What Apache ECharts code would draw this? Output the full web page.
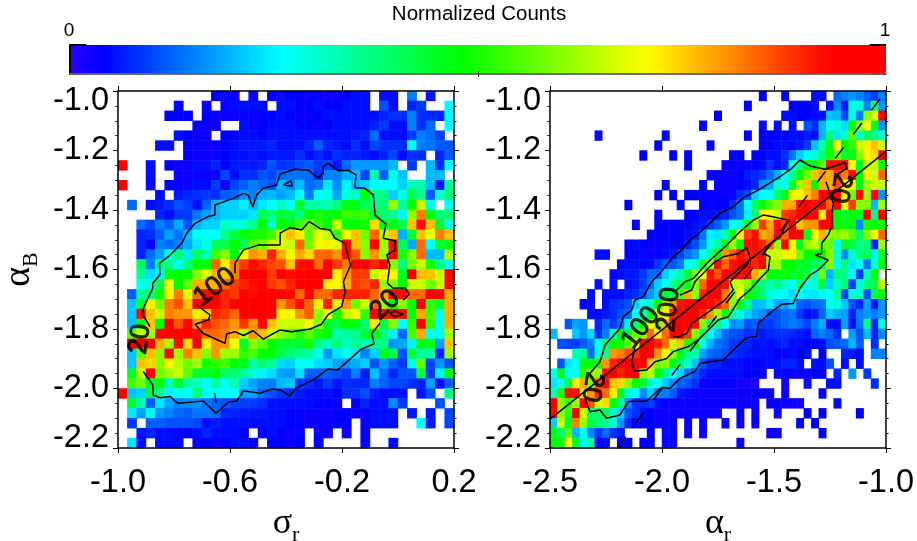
<!DOCTYPE html>
<html><head><meta charset="utf-8">
<style>html,body{margin:0;padding:0;background:#fff}#c{width:917px;height:541px}</style>
<script src="https://cdn.jsdelivr.net/npm/echarts@6/dist/echarts.min.js"></script></head>
<body><div id="c"></div><script>
const _ = null;
const gap = n => new Array(n).fill(null);
// counts in hundredths of the normalized scale, top row (alpha_B = -1.0) first
const leftRows = [
[...gap(10),4,5,3,_,3,_,3,5,4,4,3,3,2,3,4,5,5,_,5,5,_,15,_,6,_,_],
[...gap(6),4,_,_,3,_,3,5,5,5,5,_,5,5,4,4,5,4,4,5,5,5,_,11,5,_,7,9,_,_,26],
[...gap(5),4,4,4,_,4,3,3,3,3,3,4,4,5,4,3,3,4,5,5,5,5,5,5,7,8,8,15,8,7,7,26],
[...gap(8),4,3,3,_,_,5,3,4,5,5,5,4,4,3,4,5,5,5,5,7,9,5,5,15,8,13,_,26],
[...gap(6),5,4,3,3,_,4,4,5,5,4,5,5,5,5,5,5,5,5,5,6,7,13,5,5,5,9,15,13,10,_],
[...gap(4),5,5,_,4,3,3,3,4,5,6,6,6,7,5,5,5,7,12,7,6,5,8,5,10,8,8,8,26,15,14,12,11],
[...gap(7),4,3,3,3,4,5,5,6,5,6,6,6,8,5,7,5,8,7,7,6,5,7,10,5,8,8,_,7,12],
[94,_,_,5,_,4,3,3,5,5,7,4,6,6,6,7,11,8,9,11,12,9,10,6,13,17,17,17,17,20,_,9,_,20,8,26],
[_,_,_,5,_,_,3,3,3,3,3,10,5,8,8,11,10,13,14,14,13,8,15,15,19,20,10,32,12,28,21,_,_,20,20,_],
[94,_,_,5,_,4,3,3,5,5,9,3,10,12,15,13,11,20,16,20,13,15,24,16,25,20,22,26,27,26,22,33,33,20,6,35],
[_,_,_,_,5,_,6,7,8,9,8,12,13,17,15,19,20,18,20,26,15,26,28,18,29,31,48,36,36,22,28,42,35,12,30,38],
[_,13,_,5,6,8,11,9,5,12,20,22,22,25,20,24,27,31,27,44,33,33,33,37,46,46,40,36,38,62,35,48,66,28,_,27],
[_,_,_,_,7,5,9,9,14,18,20,22,22,22,24,41,37,44,42,38,48,50,46,48,53,52,53,44,38,36,25,60,82,46,38,38],
[_,_,13,10,15,12,19,11,20,22,22,31,29,30,36,48,32,48,46,54,59,52,48,66,48,48,49,74,44,46,42,76,92,76,44,28],
[_,_,7,8,12,18,14,20,27,26,26,36,42,48,50,50,54,66,76,72,56,68,66,52,70,76,58,84,64,76,19,44,76,68,82,76],
[_,_,7,4,15,13,15,19,24,28,40,42,48,40,56,58,66,68,66,84,58,70,72,68,93,76,60,95,62,93,40,19,84,26,44,48],
[_,_,7,13,18,29,38,24,40,33,54,60,47,70,80,78,90,78,71,78,74,84,84,80,93,85,60,80,62,94,50,60,84,20,20,64],
[_,_,40,15,37,36,26,38,48,48,84,72,82,88,92,90,87,86,76,92,93,84,94,88,82,94,94,90,94,60,37,58,66,50,36,27],
[_,_,35,23,25,48,48,48,60,68,78,76,82,94,94,94,88,94,92,94,94,94,94,71,80,88,88,66,72,71,46,94,76,76,66,94],
[_,_,27,30,42,70,48,56,78,78,78,84,88,90,92,94,88,86,90,94,94,94,72,71,78,88,86,90,62,60,48,66,66,58,66,94],
[_,12,35,38,50,71,82,68,84,93,94,90,88,94,92,94,94,94,92,84,94,84,84,90,90,90,90,84,78,93,93,84,84,94,94,78],
[_,21,44,72,58,82,86,76,94,94,94,90,94,94,94,94,94,80,86,92,84,72,90,72,80,58,66,84,62,48,60,48,94,52,44,78],
[_,21,92,76,66,82,80,80,72,74,90,88,84,94,94,94,94,72,71,80,85,60,70,50,66,71,52,94,92,93,93,48,78,54,27,78],
[_,21,46,76,48,94,86,93,80,90,86,84,80,88,80,93,76,66,66,66,70,60,44,42,48,46,38,72,42,60,26,52,94,52,27,78],
[_,56,66,62,94,94,94,94,92,84,84,82,78,64,80,76,66,60,56,50,56,50,48,32,34,36,44,48,38,25,13,54,78,27,27,62],
[_,94,94,94,78,62,92,74,94,72,80,80,70,44,60,56,48,44,44,44,50,36,31,38,32,36,32,36,36,17,19,25,46,46,18,76],
[_,21,56,76,60,93,62,82,76,60,80,62,62,52,54,48,48,42,38,36,34,28,17,24,27,24,15,22,46,42,11,44,34,34,7,62],
[_,21,76,74,60,72,64,58,62,50,52,54,48,46,34,38,36,23,22,27,27,23,22,18,17,19,22,11,17,12,9,27,56,10,17,11],
[_,44,66,94,58,62,66,56,44,44,48,40,38,35,30,25,23,18,17,23,12,12,12,11,9,15,6,21,13,7,11,11,42,9,25,48],
[_,54,58,44,48,32,44,34,32,27,34,27,33,22,18,15,15,20,21,9,8,6,9,6,8,7,7,15,12,10,10,8,7,18,5,12],
[94,21,22,42,36,25,27,26,38,26,27,26,26,18,18,13,11,9,8,6,5,5,5,4,8,8,11,6,5,5,5,_,6,11,_,37],
[_,44,33,12,24,18,15,16,17,14,12,11,10,9,9,8,5,5,5,5,5,4,4,3,_,4,7,5,5,16,9,_,_,_,11,_],
[_,24,18,26,17,15,13,12,14,14,13,7,7,6,6,6,5,5,4,3,3,3,3,4,4,3,3,5,5,5,_,6,_,6,_,10],
[_,9,_,12,12,11,11,11,10,5,6,5,5,5,5,5,5,5,4,4,3,3,3,4,4,_,3,5,5,5,_,_,26,6,_,10],
[_,_,6,7,5,5,3,4,5,7,5,5,5,4,_,4,5,4,3,3,_,3,3,_,3,_,3,...gap(9)],
[_,24,5,_,5,5,5,_,3,4,3,4,5,5,4,_,4,4,3,4,_,4,_,_,_,_,3,_,_,5,...gap(6)]
];
const rightRows = [
[...gap(28),4,_,_,4,_,_,_,5,5,_,13,15,17,15,12,9,15],
[...gap(26),4,...gap(5),4,4,4,5,_,5,16,6,28,30,15,38,17],
[...gap(22),4,...gap(8),5,5,4,4,5,5,21,20,10,28,15,60,68,94],
[...gap(20),4,...gap(7),5,_,5,_,5,_,11,8,20,26,30,23,46,62,70,46,17],
[...gap(6),5,...gap(8),4,...gap(10),4,_,4,4,4,4,5,5,6,5,20,38,24,30,56,32,40,36,30],
[...gap(14),4,...gap(6),4,...gap(6),4,4,5,5,5,6,9,21,33,46,71,48,52,66,72,76,66],
[...gap(12),4,_,_,_,4,_,4,...gap(5),4,4,_,4,4,5,5,8,14,22,26,30,38,50,58,44,46,60,72,74,94],
[...gap(18),4,...gap(4),3,3,3,3,4,5,8,5,7,27,36,48,46,56,92,93,93,70,46,66,66,46],
[...gap(21),3,3,3,3,4,6,7,9,13,19,26,36,48,58,76,80,78,88,82,93,48,72,66,84],
[...gap(15),4,...gap(4),4,_,3,3,3,4,5,7,17,19,30,27,44,62,76,48,78,78,86,71,72,46,62,66,66],
[...gap(14),4,_,4,_,4,4,4,3,3,3,3,8,10,22,26,26,38,46,71,71,76,82,94,94,94,71,58,92,62,94,17],
[...gap(10),4,...gap(6),4,_,_,4,3,4,4,8,14,27,40,48,55,60,78,78,92,94,92,94,84,94,71,88,60,60,20,62],
[...gap(14),4,_,_,_,4,4,5,5,6,7,11,14,25,38,71,71,66,88,90,94,94,94,72,94,48,44,48,46,94,36,94],
[...gap(11),4,_,_,4,4,4,4,4,5,6,9,12,17,26,30,46,62,88,78,92,88,94,76,80,80,94,94,48,46,48,16,50,46,50],
[...gap(13),4,4,4,4,4,5,6,14,25,24,33,48,72,88,92,78,80,94,84,94,94,46,70,78,60,60,62,56,40,60,70,84],
[...gap(10),4,5,4,3,3,3,4,4,7,11,17,28,34,48,62,48,93,93,90,84,62,94,71,46,62,66,56,58,28,44,44,36,38,7,62],
[...gap(6),5,5,_,_,4,4,3,3,4,5,6,10,14,17,27,35,48,80,85,93,90,92,92,66,66,71,72,58,48,48,48,60,30,16,30,38,40,27,44],
[...gap(9),4,5,5,4,5,9,12,11,15,26,30,50,60,92,84,92,94,94,90,94,62,62,48,48,44,44,40,38,60,28,38,24,27,14,30,48],
[...gap(8),4,5,6,6,9,13,13,22,28,33,44,60,71,92,86,94,94,92,94,78,62,48,46,50,44,46,42,30,58,20,38,35,27,9,33,46,_],
[...gap(6),5,_,5,_,5,6,9,14,22,26,36,42,46,60,84,94,94,92,66,66,60,44,36,33,36,30,26,38,28,30,44,22,32,38,9,30,38,42,66],
[...gap(5),5,_,5,5,5,7,8,11,17,22,44,42,54,78,60,90,94,94,82,60,70,48,44,38,30,26,26,23,26,24,24,27,26,36,10,30,30,11,42,48],
[...gap(4),4,5,_,5,8,9,11,22,27,33,48,66,80,92,94,94,94,92,90,84,60,46,36,20,21,24,18,18,22,12,11,13,14,27,29,21,11,7,18,6,17],
[...gap(5),5,5,6,8,11,13,26,32,46,66,72,90,94,94,94,90,80,62,46,34,28,22,18,16,11,11,13,14,9,5,6,13,22,19,18,7,15,17,15,17],
[_,_,11,18,17,_,7,13,9,13,25,38,48,70,60,76,94,94,94,92,60,36,36,26,16,18,11,12,9,9,11,13,15,13,10,15,19,5,5,18,5,14,36,7,30],
[20,_,_,21,17,23,8,15,33,48,42,58,60,84,72,84,94,94,88,60,38,27,20,13,11,10,8,9,6,7,8,8,7,6,5,13,15,13,8,_,18,11,20,7,16],
[_,11,10,9,12,15,26,38,48,48,56,70,94,94,90,84,66,76,50,46,28,19,14,12,9,8,7,5,6,5,6,7,5,5,4,4,5,11,12,13,20,12,_,8,_],
[_,_,_,33,35,13,30,36,80,82,86,88,94,94,80,71,60,46,36,33,18,13,12,10,8,7,6,5,5,5,4,3,5,4,5,_,4,_,_,7,6,5,_,15,15],
[_,11,24,27,46,48,50,80,90,94,94,94,94,76,58,60,46,38,30,20,11,7,7,5,5,5,4,4,3,5,5,7,7,5,_,5,5,11,_,5,_,5,_,_,_],
[27,46,27,26,52,60,62,92,94,90,94,94,60,66,48,36,26,22,14,11,7,5,5,5,5,5,4,4,3,_,3,3,3,3,3,4,4,_,7,_,17,_,9,_,_],
[24,27,42,72,78,60,86,92,76,74,60,48,44,30,27,21,16,12,11,8,3,3,4,4,3,2,2,2,_,_,_,3,_,_,4,_,_,5,5,_,_,_,_,8,_],
[33,50,92,92,72,80,90,84,72,46,30,26,16,22,15,15,12,6,5,3,3,3,3,3,3,3,3,3,3,3,_,3,_,_,_,_,4,...gap(8)],
[94,60,52,62,94,86,66,74,48,35,16,8,8,9,5,3,3,3,3,3,3,3,3,3,3,3,3,3,_,3,3,3,3,3,_,_,_,_,5,...gap(6)],
[94,60,52,94,66,38,40,40,30,22,11,8,5,4,3,3,3,3,3,3,3,3,3,_,_,3,_,3,_,_,3,_,_,_,4,_,4,_,_,_,_,4,_,_,_],
[22,66,44,82,62,42,38,36,30,17,7,4,4,4,3,3,3,_,3,_,3,_,_,3,_,3,_,3,...gap(5),4,_,4,...gap(9)],
[46,38,56,20,26,15,9,13,8,6,_,_,_,4,_,5,3,_,3,_,3,...gap(8),3,3,...gap(5),4,...gap(8)],
[48,46,70,44,28,34,4,5,_,4,4,_,4,4,_,3,3,...gap(8),3,...gap(19)]
];
// contour lines, [x, y] in axis units
const sigma20Lower = [[-0.91,-1.943],[-0.876,-1.988],[-0.874,-2.022],[-0.85,-2.031],[-0.814,-2.027],[-0.785,-2.05],[-0.695,-2.042],[-0.65,-2.083],[-0.606,-2.046],[-0.576,-2.042],[-0.552,-2.008],[-0.493,-2.016],[-0.451,-2.002],[-0.421,-2.005],[-0.386,-2.025],[-0.362,-1.997],[-0.302,-1.971],[-0.249,-1.934],[-0.217,-1.939],[-0.13,-1.867],[-0.085,-1.85],[-0.094,-1.815],[-0.064,-1.781]];
const sigma20Upper = [[0.019,-1.703],[0.04,-1.683],[0.025,-1.661],[-0.017,-1.663],[-0.038,-1.646],[-0.029,-1.585],[-0.04,-1.551],[-0.011,-1.534],[-0.011,-1.503],[-0.053,-1.495],[-0.043,-1.447],[-0.082,-1.417],[-0.088,-1.35],[-0.118,-1.327],[-0.154,-1.324],[-0.15,-1.282],[-0.178,-1.266],[-0.213,-1.268],[-0.249,-1.243],[-0.267,-1.254],[-0.267,-1.277],[-0.285,-1.293],[-0.32,-1.266],[-0.368,-1.263],[-0.421,-1.279],[-0.433,-1.316],[-0.481,-1.327],[-0.505,-1.35],[-0.519,-1.389],[-0.535,-1.35],[-0.552,-1.344],[-0.588,-1.361],[-0.654,-1.383],[-0.654,-1.417],[-0.678,-1.422],[-0.725,-1.445],[-0.755,-1.478],[-0.772,-1.512],[-0.82,-1.557],[-0.852,-1.579],[-0.85,-1.618],[-0.876,-1.646],[-0.876,-1.663],[-0.91,-1.731],[-0.91,-1.753],[-0.886,-1.792]];
const sigmaIslandA = [[-0.41,-1.316],[-0.382,-1.302],[-0.377,-1.319],[-0.41,-1.316]];
const sigmaIslandB = [[-0.654,-2.016],[-0.648,-2.016],[-0.65,-2.05],[-0.654,-2.016]];
const sigmaIslandC = [[-0.029,-1.747],[-0.011,-1.739],[0.019,-1.75],[-0.011,-1.759],[-0.029,-1.747]];
const sigma100 = [[-0.719,-1.719],[-0.671,-1.753],[-0.677,-1.77],[-0.725,-1.784],[-0.695,-1.815],[-0.618,-1.848],[-0.612,-1.817],[-0.582,-1.809],[-0.552,-1.822],[-0.517,-1.806],[-0.481,-1.834],[-0.421,-1.803],[-0.38,-1.809],[-0.314,-1.8],[-0.273,-1.784],[-0.249,-1.751],[-0.201,-1.725],[-0.189,-1.675],[-0.195,-1.641],[-0.169,-1.585],[-0.178,-1.557],[-0.189,-1.512],[-0.225,-1.495],[-0.243,-1.467],[-0.279,-1.462],[-0.317,-1.439],[-0.344,-1.467],[-0.386,-1.459],[-0.421,-1.478],[-0.421,-1.518],[-0.499,-1.518],[-0.552,-1.534],[-0.582,-1.579],[-0.576,-1.585],[-0.582,-1.613]];
const alpha20Upper = [[-2.321,-1.949],[-2.277,-1.91],[-2.254,-1.854],[-2.188,-1.798],[-2.173,-1.759],[-2.135,-1.736],[-2.121,-1.703],[-2.083,-1.691],[-2.046,-1.641],[-2.009,-1.613],[-1.979,-1.585],[-1.95,-1.557],[-1.92,-1.54],[-1.875,-1.501],[-1.845,-1.484],[-1.786,-1.445],[-1.741,-1.411],[-1.682,-1.389],[-1.629,-1.355],[-1.57,-1.333],[-1.473,-1.288],[-1.421,-1.26],[-1.384,-1.232],[-1.339,-1.252],[-1.272,-1.263],[-1.235,-1.254],[-1.183,-1.24],[-1.175,-1.26],[-1.22,-1.282]];
const alpha20Lower = [[-1.268,-1.305],[-1.258,-1.327],[-1.235,-1.377],[-1.242,-1.411],[-1.242,-1.456],[-1.258,-1.484],[-1.287,-1.512],[-1.287,-1.546],[-1.317,-1.551],[-1.258,-1.568],[-1.302,-1.602],[-1.339,-1.618],[-1.384,-1.663],[-1.414,-1.714],[-1.466,-1.717],[-1.51,-1.742],[-1.57,-1.781],[-1.577,-1.826],[-1.622,-1.829],[-1.682,-1.871],[-1.726,-1.904],[-1.83,-1.915],[-1.853,-1.943],[-1.92,-1.966],[-1.964,-1.999],[-2.001,-1.997],[-2.039,-2.022],[-2.068,-2.042],[-2.15,-2.044],[-2.188,-2.089],[-2.247,-2.1],[-2.277,-2.072],[-2.321,-2.078],[-2.344,-2.033]];
const alpha100 = [[-1.942,-1.675],[-1.897,-1.641],[-1.86,-1.63],[-1.793,-1.574],[-1.711,-1.518],[-1.652,-1.473],[-1.592,-1.434],[-1.548,-1.417],[-1.51,-1.422],[-1.436,-1.434],[-1.473,-1.49],[-1.51,-1.512],[-1.548,-1.546],[-1.518,-1.557],[-1.525,-1.602],[-1.562,-1.63],[-1.607,-1.669],[-1.652,-1.697],[-1.704,-1.759],[-1.749,-1.77],[-1.793,-1.803],[-1.839,-1.837],[-1.883,-1.859],[-1.95,-1.876],[-1.979,-1.899],[-2.031,-1.91],[-2.068,-1.938],[-2.125,-1.941],[-2.135,-1.91],[-2.121,-1.865]];
const alpha200 = [[-1.92,-1.686],[-1.867,-1.669],[-1.853,-1.641],[-1.808,-1.607],[-1.771,-1.579],[-1.726,-1.557],[-1.659,-1.546],[-1.622,-1.527],[-1.607,-1.557],[-1.615,-1.579],[-1.659,-1.613],[-1.696,-1.641],[-1.682,-1.669],[-1.719,-1.703],[-1.749,-1.719],[-1.8,-1.747],[-1.867,-1.781],[-1.89,-1.815],[-1.927,-1.826],[-1.951,-1.826]];
const fitLine = [[-2.5,-2.103],[-1.0,-1.203]];
const unityLine = [[-2.2,-2.2],[-1.0,-1.0]];
// [x, y, text, rotation]
const sigmaLabels = [[-0.921,-1.834,'20',82],[-0.654,-1.659,'100',38],[-0.046,-1.719,'20',45]];
const alphaLabels = [[-2.3125,-1.995,'20',-100],[-1.205,-1.326,'20',-100],[-2.095,-1.796,'100',52],[-1.97,-1.735,'200',84]];
const sigmaTicks = [-1.0,-0.6,-0.2,0.2];
const alphaTicks = [-2.5,-2.0,-1.5,-1.0];
const barCaps = [[0,0],[0.02,0],null,[0,1],[0.02,1],null,[0.98,0],[1,0],null,[0.98,1],[1,1]];

const anchors = [[0,[42,0,255]],[0.04,[0,0,255]],[0.26,[0,255,255]],[0.48,[0,255,0]],[0.707,[255,255,0]],[0.93,[255,0,0]],[1,[255,0,0]]];
function colorAt(t){for(let i=1;i<anchors.length;i++){if(t<=anchors[i][0]){const a=anchors[i-1],b=anchors[i],f=(t-a[0])/(b[0]-a[0]);return 'rgb('+a[1].map((c,k)=>Math.round(c+(b[1][k]-c)*f)).join(',')+')';}}return 'rgb(255,0,0)';}
const palette=[];for(let i=0;i<=50;i++)palette.push(colorAt(i/50));
const cells = rows => {const out=[];rows.forEach((r,j)=>r.forEach((v,i)=>{if(v!==null)out.push([i,rows.length-1-j,v/100]);}));return out;};
const idx = n => Array.from({length:n},(_,i)=>String(i));
const FONT='"Liberation Sans",Arial,sans-serif';
const G={top:91,height:357,width:336,outerBoundsMode:'none'};
const hideAxis=(t,g,n)=>({type:'category',gridIndex:g,data:idx(n),show:false,boundaryGap:true});
const lineSt={show:true,onZero:false,lineStyle:{color:'#000',width:1.5}};
const tickSt={show:true,length:5,lineStyle:{color:'#000',width:1}};
function xAx(g,pos,min,max,ticks,name){const lab=pos==='bottom';return {type:'value',gridIndex:g,position:pos,min,max,z:5,splitLine:{show:false},axisLine:lineSt,
 axisTick:{...tickSt,customValues:ticks},axisLabel:{show:lab,customValues:ticks,margin:19,fontFamily:FONT,fontSize:32.5,color:'#000',formatter:v=>v.toFixed(1)},
 ...(name&&lab?{name:'{s|'+name+'}{r|r}',nameLocation:'middle',nameGap:58,nameTextStyle:{rich:{s:{fontFamily:'"Liberation Serif",serif',fontSize:36,color:'#000'},r:{fontFamily:'"Liberation Serif",serif',fontSize:22,color:'#000',verticalAlign:'bottom',padding:[0,0,-4,0]}}}}:{})};}
function yAx(g,pos,lab,name){return {type:'value',gridIndex:g,position:pos,min:-2.2,max:-1.0,interval:0.2,z:5,splitLine:{show:false},axisLine:lineSt,axisTick:tickSt,
 minorTick:{show:true,splitNumber:4,length:2.5,lineStyle:{color:'#000',width:1}},minorSplitLine:{show:false},
 axisLabel:{show:lab,margin:9,fontFamily:FONT,fontSize:32.5,lineHeight:20,verticalAlignMinLabel:'bottom',verticalAlignMaxLabel:'top',color:'#000',formatter:v=>v.toFixed(1)},
 ...(name?{name:'{s|α}{r|B}',nameLocation:'middle',nameGap:80,nameRotate:90,nameTextStyle:{rich:{s:{fontFamily:'"Liberation Serif",serif',fontSize:38,color:'#000'},r:{fontFamily:'"Liberation Serif",serif',fontSize:22,color:'#000',verticalAlign:'bottom',padding:[0,0,-4,0]}}}}:{})};}
const contour=(data,x,y,extra)=>({type:'line',xAxisIndex:x,yAxisIndex:y,data,showSymbol:false,symbol:'none',z:4,silent:true,animation:false,lineStyle:{color:'#000',width:1.5,...(extra||{})}});
const labels=(data,x,y)=>({type:'scatter',xAxisIndex:x,yAxisIndex:y,z:6,symbolSize:1,itemStyle:{color:'rgba(0,0,0,0)'},silent:true,
 data:data.map(d=>({value:[d[0],d[1]],label:{show:true,position:'inside',align:'center',verticalAlign:'middle',formatter:d[2],rotate:d[3],fontFamily:FONT,fontSize:27,color:'#000',textBorderColor:'#000',textBorderWidth:1}}))});

const chart=echarts.init(document.getElementById('c'),null,{renderer:'canvas'});
chart.setOption({
 animation:false,backgroundColor:'#fff',
 title:[
  {text:'Normalized Counts',left:474,top:-1,textAlign:'center',textStyle:{fontFamily:FONT,fontSize:20.5,fontWeight:'normal',color:'#000'}},
  {text:'0',left:64,top:16,textAlign:'center',textStyle:{fontFamily:FONT,fontSize:19,fontWeight:'normal',color:'#000'}},
  {text:'1',left:880,top:16,textAlign:'center',textStyle:{fontFamily:FONT,fontSize:19,fontWeight:'normal',color:'#000'}}
 ],
 visualMap:{type:'continuous',min:0,max:1,seriesIndex:[0,1],left:70,top:45,orient:'horizontal',itemWidth:29,itemHeight:816,padding:0,showLabel:false,calculable:false,hoverLink:false,realtime:false,z:1,inRange:{color:palette},text:null},
 grid:[
  {left:118,...G},{left:550,...G},{left:118,...G},{left:550,...G},
  {left:70,top:45,width:816,height:29,outerBoundsMode:'none'}
 ],
 xAxis:[hideAxis('x',0,36),hideAxis('x',1,45),
  xAx(2,'bottom',-1.0,0.2,sigmaTicks,'σ'),xAx(2,'top',-1.0,0.2,sigmaTicks),
  xAx(3,'bottom',-2.5,-1.0,alphaTicks,'α'),xAx(3,'top',-2.5,-1.0,alphaTicks),
  {type:'value',gridIndex:4,position:'bottom',min:0,max:1,z:5,splitLine:{show:false},axisLine:{show:true,lineStyle:{color:'#666',width:1.5}},axisTick:{show:true,inside:true,length:3,customValues:[0.5],lineStyle:{color:'#333'}},axisLabel:{show:false}},
  {type:'value',gridIndex:4,position:'top',min:0,max:1,z:5,splitLine:{show:false},axisLine:{show:true,lineStyle:{color:'#666',width:1.5}},axisTick:{show:true,inside:true,length:3,customValues:[0.5],lineStyle:{color:'#333'}},axisLabel:{show:false}}
 ],
 yAxis:[hideAxis('y',0,36),hideAxis('y',1,36),
  yAx(2,'left',true,true),yAx(2,'right',false),
  yAx(3,'left',true),yAx(3,'right',false),
  {type:'value',gridIndex:4,position:'left',min:0,max:1,z:5,splitLine:{show:false},axisLine:{show:true,lineStyle:{color:'#000',width:1.5}},axisTick:{show:false},axisLabel:{show:false}},
  {type:'value',gridIndex:4,position:'right',min:0,max:1,z:5,splitLine:{show:false},axisLine:{show:true,lineStyle:{color:'#000',width:1.5}},axisTick:{show:false},axisLabel:{show:false}}
 ],
 series:[
  {type:'heatmap',xAxisIndex:0,yAxisIndex:0,data:cells(leftRows),z:2,silent:true,progressive:0},
  {type:'heatmap',xAxisIndex:1,yAxisIndex:1,data:cells(rightRows),z:2,silent:true,progressive:0},
  contour(sigma20Lower,2,2),contour(sigma20Upper,2,2),contour(sigmaIslandA,2,2),contour(sigmaIslandB,2,2),contour(sigmaIslandC,2,2),contour(sigma100,2,2),
  labels(sigmaLabels,2,2),
  contour(alpha20Upper,4,4),contour(alpha20Lower,4,4),contour(alpha100,4,4),contour(alpha200,4,4),
  contour(fitLine,4,4),contour(unityLine,4,4,{type:[14.2,16]}),
  labels(alphaLabels,4,4),
  {...contour(barCaps.map(p=>p||[null,null]),6,6),clip:false,lineStyle:{color:'#000',width:2}}
 ]
});
</script></body></html>
